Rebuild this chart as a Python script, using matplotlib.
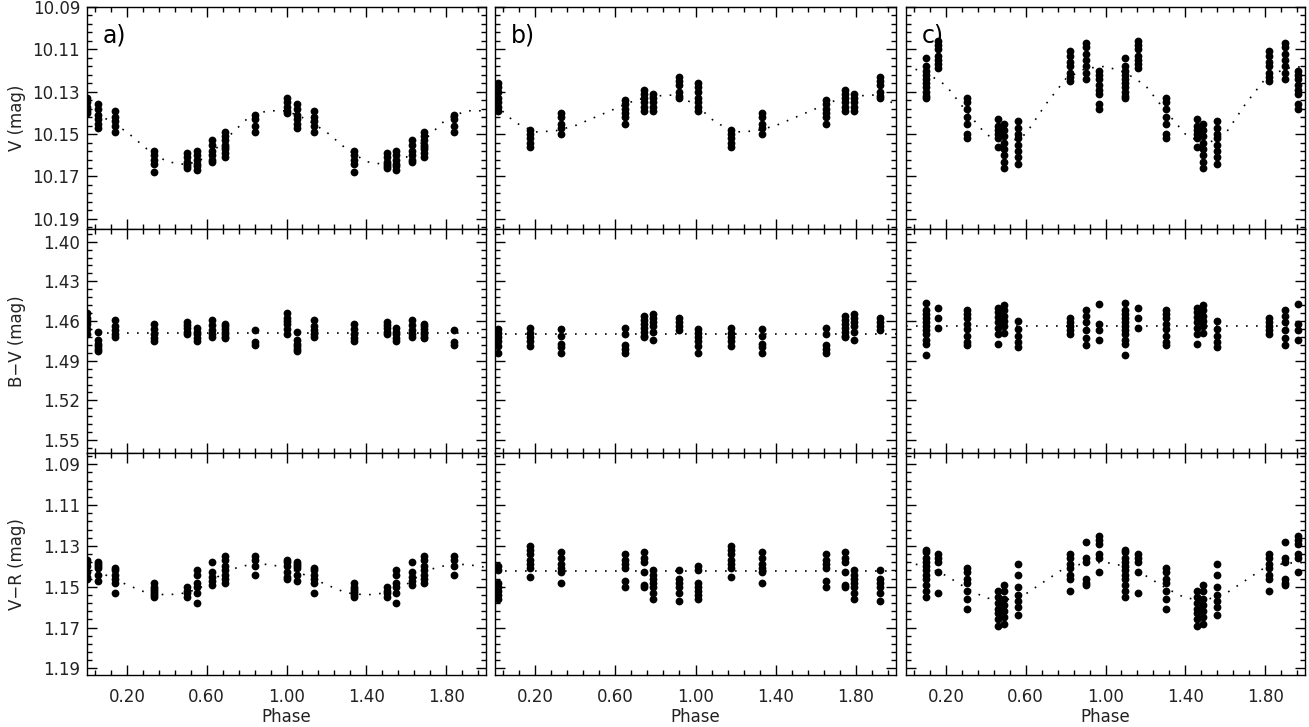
import numpy as np
import matplotlib
matplotlib.use('Agg')
import matplotlib.pyplot as plt
from matplotlib.ticker import FixedLocator, FormatStrFormatter

# phases of the observation groups (each is drawn at phase and phase+1)
phase_a = [0.001, 0.053, 0.14, 0.338, 0.503, 0.551, 0.627, 0.69, 0.842]
phase_b = [0.014, 0.175, 0.33, 0.65, 0.745, 0.79, 0.918]
phase_c = [0.10, 0.162, 0.305, 0.46, 0.49, 0.56, 0.82, 0.90, 0.967]

v_a = [[10.133, 10.135, 10.137, 10.139, 10.140],
       [10.136, 10.138, 10.141, 10.143, 10.145, 10.147],
       [10.139, 10.142, 10.144, 10.146, 10.149],
       [10.158, 10.160, 10.162, 10.164, 10.168],
       [10.159, 10.161, 10.163, 10.164, 10.165, 10.166],
       [10.158, 10.160, 10.162, 10.164, 10.165, 10.167],
       [10.153, 10.155, 10.158, 10.160, 10.162, 10.163],
       [10.149, 10.151, 10.153, 10.155, 10.156, 10.157, 10.159, 10.161],
       [10.141, 10.143, 10.146, 10.149]]
bv_a = [[1.454, 1.458, 1.460, 1.462, 1.466, 1.470],
        [1.468, 1.474, 1.477, 1.479, 1.481, 1.483],
        [1.459, 1.464, 1.467, 1.470, 1.472],
        [1.462, 1.466, 1.470, 1.473, 1.475],
        [1.461, 1.463, 1.465, 1.468, 1.470],
        [1.465, 1.468, 1.470, 1.473, 1.475],
        [1.459, 1.463, 1.467, 1.470, 1.472],
        [1.462, 1.464, 1.466, 1.468, 1.470, 1.472, 1.473],
        [1.467, 1.476, 1.478]]
vr_a = [[1.137, 1.138, 1.140, 1.143, 1.145, 1.146],
        [1.138, 1.139, 1.140, 1.141, 1.144, 1.147],
        [1.141, 1.142, 1.144, 1.146, 1.148, 1.153],
        [1.148, 1.150, 1.151, 1.152, 1.153, 1.154, 1.155],
        [1.150, 1.152, 1.153, 1.155],
        [1.142, 1.144, 1.148, 1.150, 1.153, 1.158],
        [1.138, 1.143, 1.145, 1.147, 1.149],
        [1.135, 1.137, 1.140, 1.142, 1.144, 1.146, 1.148],
        [1.135, 1.137, 1.140, 1.144]]

v_b = [[10.126, 10.128, 10.130, 10.133, 10.135, 10.137, 10.139],
       [10.148, 10.150, 10.152, 10.154, 10.156],
       [10.140, 10.142, 10.145, 10.147, 10.150],
       [10.134, 10.136, 10.138, 10.140, 10.142, 10.145],
       [10.129, 10.131, 10.133, 10.135, 10.137, 10.139],
       [10.131, 10.133, 10.135, 10.137, 10.139],
       [10.123, 10.125, 10.127, 10.130, 10.132, 10.133]]
bv_b = [[1.466, 1.469, 1.472, 1.475, 1.479, 1.484],
        [1.465, 1.469, 1.472, 1.475, 1.479],
        [1.466, 1.471, 1.477, 1.480, 1.484],
        [1.465, 1.470, 1.478, 1.481, 1.484],
        [1.456, 1.459, 1.462, 1.465, 1.468, 1.471, 1.472],
        [1.455, 1.458, 1.461, 1.464, 1.468, 1.474],
        [1.458, 1.461, 1.464, 1.467]]
vr_b = [[1.140, 1.142, 1.148, 1.150, 1.152, 1.154, 1.156],
        [1.130, 1.132, 1.134, 1.137, 1.139, 1.141, 1.145],
        [1.133, 1.136, 1.139, 1.141, 1.143, 1.148],
        [1.134, 1.137, 1.139, 1.141, 1.147, 1.150],
        [1.133, 1.136, 1.138, 1.143, 1.149, 1.150],
        [1.142, 1.144, 1.146, 1.148, 1.150, 1.153, 1.156],
        [1.142, 1.146, 1.148, 1.150, 1.153, 1.157]]

v_c = [[10.114, 10.118, 10.120, 10.122, 10.124, 10.126, 10.128, 10.130, 10.132, 10.133],
       [10.106, 10.108, 10.110, 10.113, 10.115, 10.117, 10.119],
       [10.133, 10.135, 10.138, 10.142, 10.145, 10.150, 10.152],
       [10.143, 10.146, 10.148, 10.150, 10.152, 10.156],
       [10.145, 10.148, 10.151, 10.154, 10.157, 10.160, 10.163, 10.166],
       [10.144, 10.147, 10.150, 10.152, 10.155, 10.158, 10.161, 10.164],
       [10.111, 10.113, 10.116, 10.118, 10.121, 10.123, 10.125],
       [10.107, 10.109, 10.112, 10.115, 10.118, 10.121, 10.124],
       [10.120, 10.122, 10.124, 10.127, 10.129, 10.131, 10.136, 10.138]]
bv_c = [[1.446, 1.452, 1.455, 1.458, 1.461, 1.464, 1.467, 1.470, 1.474, 1.477, 1.486],
        [1.450, 1.458, 1.465],
        [1.452, 1.455, 1.458, 1.462, 1.466, 1.471, 1.476, 1.478],
        [1.450, 1.453, 1.457, 1.461, 1.465, 1.470, 1.477],
        [1.448, 1.452, 1.456, 1.460, 1.464, 1.469],
        [1.460, 1.466, 1.471, 1.476, 1.480],
        [1.458, 1.461, 1.464, 1.467, 1.470],
        [1.452, 1.456, 1.461, 1.467, 1.473, 1.478],
        [1.447, 1.462, 1.467, 1.474]]
vr_c = [[1.132, 1.133, 1.136, 1.138, 1.140, 1.142, 1.144, 1.146, 1.149, 1.152, 1.155],
        [1.134, 1.136, 1.138, 1.143, 1.153],
        [1.141, 1.143, 1.146, 1.148, 1.152, 1.156, 1.161],
        [1.152, 1.155, 1.158, 1.161, 1.163, 1.166, 1.169],
        [1.149, 1.152, 1.156, 1.159, 1.162, 1.165, 1.168],
        [1.139, 1.144, 1.150, 1.154, 1.157, 1.160, 1.164],
        [1.134, 1.136, 1.139, 1.141, 1.144, 1.146, 1.152],
        [1.128, 1.136, 1.138, 1.146, 1.148, 1.149],
        [1.125, 1.127, 1.129, 1.134, 1.136, 1.143]]

# fitted curves (dotted), read at phase 0.0 ... 1.0
fit_phase = [0.0, 0.1, 0.2, 0.3, 0.4, 0.5, 0.6, 0.7, 0.8, 0.9, 1.0]
fit_v_a = [10.139, 10.143, 10.149, 10.157, 10.163, 10.1645, 10.161, 10.152, 10.143, 10.139, 10.139]
fit_v_b = [10.136, 10.1445, 10.149, 10.1485, 10.146, 10.142, 10.138, 10.134, 10.132, 10.1315, 10.136]
fit_v_c = [10.118, 10.121, 10.127, 10.139, 10.150, 10.155, 10.150, 10.136, 10.124, 10.119, 10.118]
fit_bv_a = [1.469] * 11
fit_bv_b = [1.470] * 11
fit_bv_c = [1.4638] * 11
fit_vr_a = [1.1405, 1.1445, 1.149, 1.153, 1.154, 1.153, 1.149, 1.142, 1.1395, 1.139, 1.1405]
fit_vr_b = [1.1423] * 11
fit_vr_c = [1.138, 1.140, 1.1445, 1.1505, 1.1555, 1.1565, 1.1535, 1.147, 1.1405, 1.1385, 1.138]

panel_names = ['a)', 'b)', 'c)']
row_labels = ['V (mag)', 'B\u2212V (mag)', 'V\u2212R (mag)']
xtick_labels = [0.2, 0.6, 1.0, 1.4, 1.8]

phases = [phase_a, phase_b, phase_c]
data = [[v_a, v_b, v_c], [bv_a, bv_b, bv_c], [vr_a, vr_b, vr_c]]
fits = [[fit_v_a, fit_v_b, fit_v_c], [fit_bv_a, fit_bv_b, fit_bv_c], [fit_vr_a, fit_vr_b, fit_vr_c]]

ylims = [(10.1948, 10.09), (1.5598, 1.3904), (1.1932, 1.0845)]
ymajor = [np.arange(10.09, 10.195, 0.02), np.arange(1.40, 1.56, 0.03), np.arange(1.09, 1.195, 0.02)]
yminor = [np.arange(10.09, 10.195, 0.004), np.arange(1.394, 1.56, 0.006), np.arange(1.086, 1.194, 0.004)]

W, H = 1309, 727
col_left = [87, 495, 906]
col_width = [399, 401, 399]
row_top = [7, 229, 453]
row_height = [222, 224, 222]

fig = plt.figure(figsize=(W / 100, H / 100), dpi=100)
txt = '#222222'

for r in range(3):
    for c in range(3):
        ax = fig.add_axes([col_left[c] / W, 1 - (row_top[r] + row_height[r]) / H,
                           col_width[c] / W, row_height[r] / H])
        xs, ys = [], []
        for p, vals in zip(phases[c], data[r][c]):
            for shift in (0.0, 1.0):
                if p + shift <= 2.0:
                    xs += [p + shift] * len(vals)
                    ys += vals
        ax.plot(xs, ys, 'o', color='black', ms=5.6, mew=0)
        fx = list(fit_phase) + [p + 1 for p in fit_phase[1:]]
        fy = list(fits[r][c]) + list(fits[r][c][1:])
        ax.plot(fx, fy, color='black', lw=1.2, linestyle=(0, (1, 5)))

        ax.set_xlim(0, 2)
        ax.set_ylim(*ylims[r])
        ax.xaxis.set_major_locator(FixedLocator(xtick_labels))
        ax.xaxis.set_minor_locator(FixedLocator(np.arange(0.04, 2.0, 0.08)))
        ax.yaxis.set_major_locator(FixedLocator(ymajor[r]))
        ax.yaxis.set_minor_locator(FixedLocator(yminor[r]))
        ax.xaxis.set_major_formatter(FormatStrFormatter('%.2f'))
        ax.yaxis.set_major_formatter(FormatStrFormatter('%.2f'))
        ax.tick_params(which='both', direction='in', top=True, right=True,
                       labelsize=12, labelcolor=txt, width=1)
        ax.tick_params(which='major', length=7)
        ax.tick_params(which='minor', length=3.5)
        ax.tick_params(axis='x', pad=9)
        ax.tick_params(axis='y', pad=5)
        for s in ax.spines.values():
            s.set_linewidth(1)
        if c > 0:
            ax.tick_params(labelleft=False)
        if r < 2:
            ax.tick_params(labelbottom=False)
        else:
            ax.set_xlabel('Phase', fontsize=12, color=txt, labelpad=2)
        if r == 0:
            ax.text(0.04, 0.87, panel_names[c], transform=ax.transAxes,
                    fontsize=17, ha='left', va='center')
    fig.text(17 / W, 1 - (row_top[r] + row_height[r] / 2) / H, row_labels[r],
             rotation=90, ha='center', va='center', fontsize=12, color=txt)

fig.savefig('out.png', dpi=100)
